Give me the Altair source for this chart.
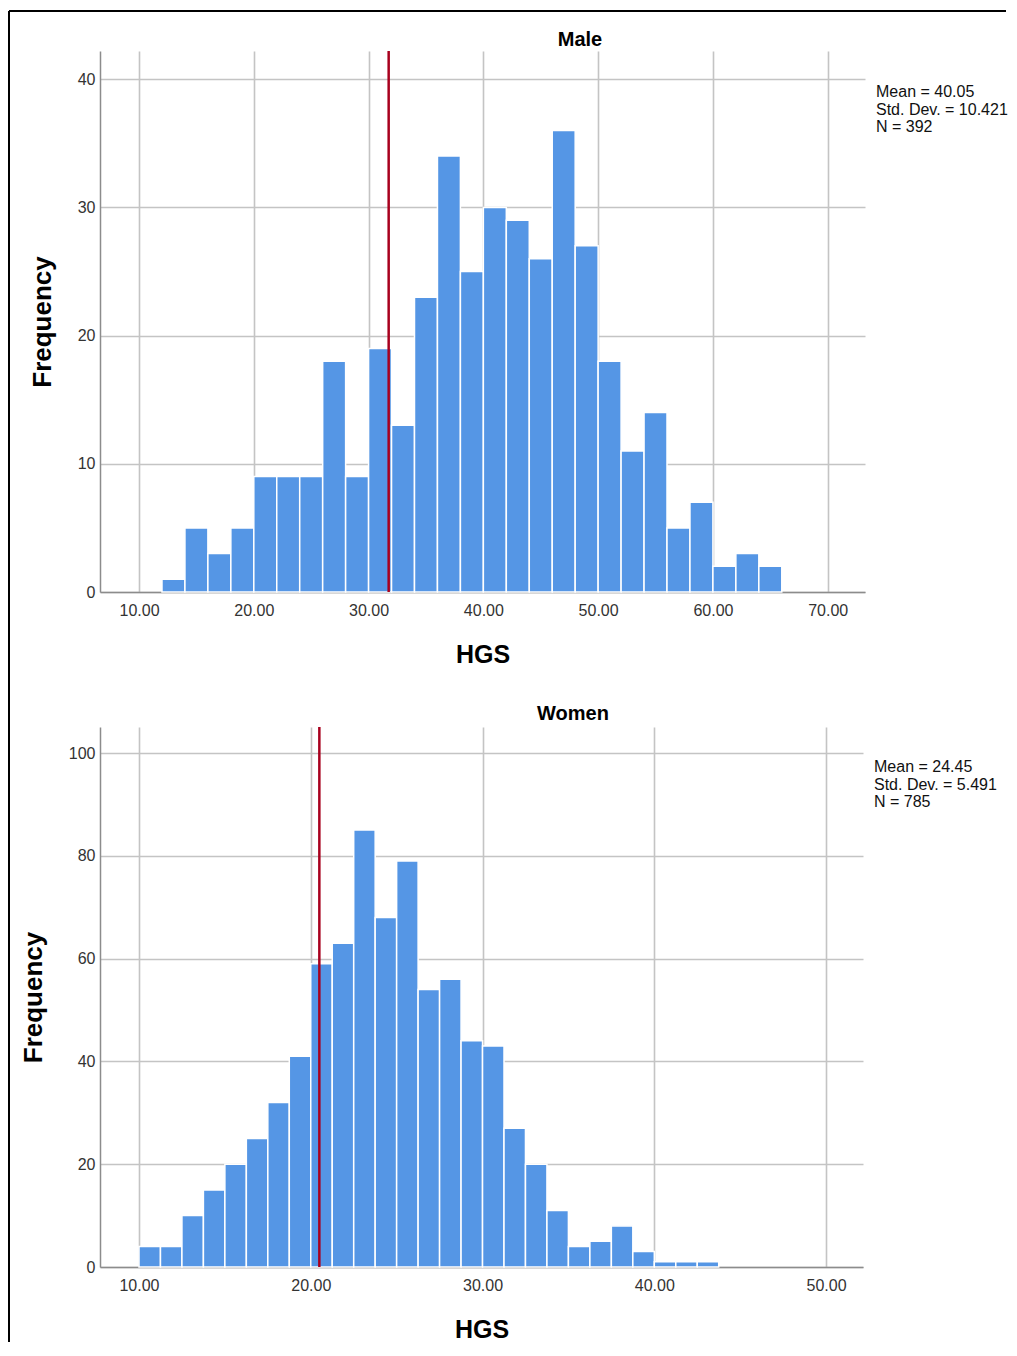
import altair as alt
import pandas as pd

# ---------------- data ----------------
male_bin_start = [12, 14, 16, 18, 20, 22, 24, 26, 28, 30, 32, 34, 36, 38, 40,
                  42, 44, 46, 48, 50, 52, 54, 56, 58, 60, 62, 64]
male_counts = [1, 5, 3, 5, 9, 9, 9, 18, 9, 19, 13, 23, 34, 25, 30,
               29, 26, 36, 27, 18, 11, 14, 5, 7, 2, 3, 2]
male_bin_width = 2.0
male_ref_line = [31.75]
male_stats = ["Mean = 40.05", "Std. Dev. = 10.421", "N = 392"]
male_x_ticks = [10, 20, 30, 40, 50, 60, 70]
male_y_ticks = [0, 10, 20, 30, 40]

women_bin_start = [10, 11.25, 12.5, 13.75, 15, 16.25, 17.5, 18.75, 20, 21.25,
                   22.5, 23.75, 25, 26.25, 27.5, 28.75, 30, 31.25, 32.5, 33.75,
                   35, 36.25, 37.5, 38.75, 40, 41.25, 42.5]
women_counts = [4, 4, 10, 15, 20, 25, 32, 41, 59, 63, 85, 68, 79, 54, 56, 44,
                43, 27, 20, 11, 4, 5, 8, 3, 1, 1, 1]
women_bin_width = 1.25
women_ref_line = [20.5]
women_stats = ["Mean = 24.45", "Std. Dev. = 5.491", "N = 785"]
women_x_ticks = [10, 20, 30, 40, 50]
women_y_ticks = [0, 20, 40, 60, 80, 100]

BAR = "#5596e5"
RED = "#a8001e"
FONT = "Liberation Sans"
AXIS = dict(labelFont=FONT, labelFontSize=16, labelColor="#333",
            titleFont=FONT, titleFontWeight="bold", titleColor="#000",
            grid=True, gridColor="#c4c4c4", gridWidth=1.6,
            domainColor="#8c8c8c", domainWidth=1.5,
            ticks=False, tickSize=0)


def panel(starts, width, counts, xdom, xticks, ydom, yticks, ref, stats,
          title, title_x, title_y, w, h, stats_x, stats_y, frame=False):
    df = pd.DataFrame({"start": starts, "count": counts})
    df["end"] = df["start"] + width

    xscale = alt.Scale(domain=xdom, nice=False, zero=False)
    yscale = alt.Scale(domain=ydom, nice=False, zero=True)

    bars = alt.Chart(df).mark_rect(
        color=BAR, stroke="white", strokeWidth=1.5
    ).encode(
        x=alt.X("start:Q", scale=xscale,
                axis=alt.Axis(values=xticks, format=".2f", title="HGS",
                              titleFontSize=25, titlePadding=24,
                              labelPadding=10, **AXIS)),
        x2="end:Q",
        y=alt.Y("count:Q", scale=yscale,
                axis=alt.Axis(values=yticks, title="Frequency",
                              titleFontSize=26, titlePadding=22,
                              labelPadding=5, **AXIS)),
        y2=alt.datum(0),
    )

    rule = alt.Chart(pd.DataFrame({"v": ref})).mark_rule(
        color=RED, strokeWidth=2.5
    ).encode(x=alt.X("v:Q", scale=xscale))

    one = pd.DataFrame({"a": [0]})
    txt = alt.Chart(one).mark_text(
        text=stats, align="left", baseline="top", font=FONT,
        fontSize=16, lineHeight=17.5, color="#111"
    ).encode(x=alt.value(stats_x), y=alt.value(stats_y))

    ttl = alt.Chart(one).mark_text(
        text=title, align="center", baseline="alphabetic", font=FONT,
        fontSize=20, fontWeight="bold", color="#000"
    ).encode(x=alt.value(title_x), y=alt.value(title_y))

    layers = [bars, rule, txt, ttl]
    if frame:
        left = alt.Chart(one).mark_rule(color="black", strokeWidth=2).encode(
            x=alt.value(-91), y=alt.value(-40), y2=alt.value(1291))
        top = alt.Chart(one).mark_rule(color="black", strokeWidth=2).encode(
            x=alt.value(-91), x2=alt.value(906), y=alt.value(-40))
        layers += [left, top]

    return alt.layer(*layers).properties(
        width=w, height=h,
        view=alt.ViewConfig(stroke="transparent", strokeWidth=0),
    )


top_chart = panel(male_bin_start, male_bin_width, male_counts, [6.6, 73.25],
                  male_x_ticks, [0, 42.2], male_y_ticks, male_ref_line,
                  male_stats, "Male", 480, -5, 765, 541, 776, 33, frame=True)

bottom_chart = panel(women_bin_start, women_bin_width, women_counts,
                     [7.73, 52.15], women_x_ticks, [0, 105.06], women_y_ticks,
                     women_ref_line, women_stats, "Women", 473, -7, 763, 540,
                     774, 32)

chart = alt.vconcat(top_chart, bottom_chart, spacing=135, bounds="flush").properties(
    padding={"left": 0, "top": 2, "right": 0, "bottom": 0}
).configure_view(stroke="transparent", strokeWidth=0).configure(background="white")

chart.save("out.html", embed_options={"renderer": "svg", "actions": False})
